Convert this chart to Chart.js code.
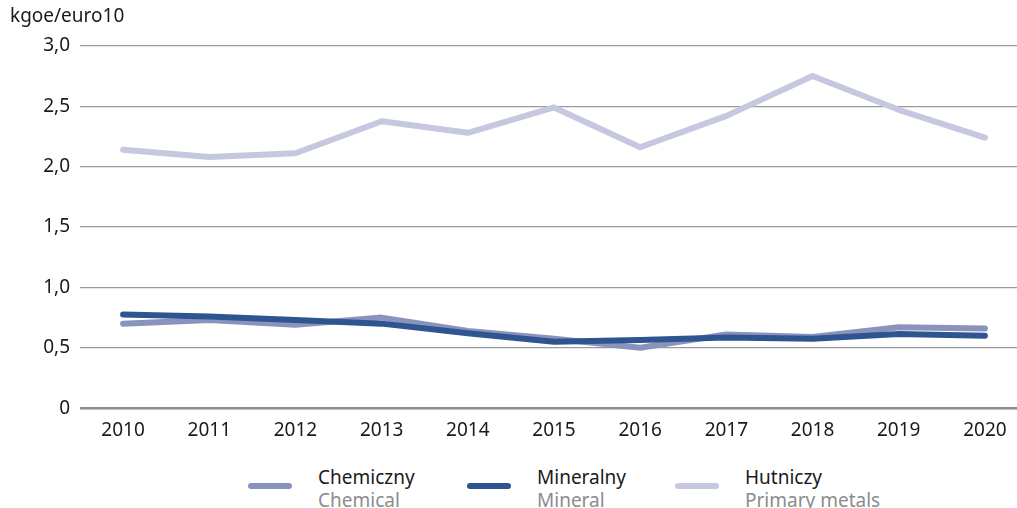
<!DOCTYPE html>
<html>
<head>
<meta charset="utf-8">
<script src="https://cdn.jsdelivr.net/npm/chart.js@4/dist/chart.umd.min.js"></script>
<style>
  html, body { margin: 0; padding: 0; background: #fff; overflow: hidden; }
  body { width: 1017px; height: 508px; position: relative; font-family: "Noto Sans", sans-serif; }
  #wrap { position: absolute; left: 0; top: 0; width: 1028px; height: 445px; }
  .leg { position: absolute; top: 466px; font-size: 19px; line-height: 23px; }
  .leg .sw { position: absolute; top: 17px; width: 44px; height: 6px; border-radius: 3px; }
  .leg .pl { color: #1a1a1a; }
  .leg .en { color: #8c8c8c; }
</style>
</head>
<body>
<div id="wrap"><canvas id="chart"></canvas></div>

<div class="leg" style="left:318px"><span class="sw" style="left:-70px;background:#8a93bd"></span><div class="pl">Chemiczny</div><div class="en">Chemical</div></div>
<div class="leg" style="left:537px"><span class="sw" style="left:-70px;background:#2e5590"></span><div class="pl">Mineralny</div><div class="en">Mineral</div></div>
<div class="leg" style="left:745px"><span class="sw" style="left:-70px;background:#c6c8df"></span><div class="pl">Hutniczy</div><div class="en">Primary metals</div></div>

<script>
// dane
var years = ['2010', '2011', '2012', '2013', '2014', '2015', '2016', '2017', '2018', '2019', '2020'];
var chemiczny = [0.70, 0.73, 0.69, 0.75, 0.64, 0.575, 0.50, 0.61, 0.59, 0.67, 0.66];
var mineralny = [0.775, 0.76, 0.73, 0.70, 0.62, 0.55, 0.565, 0.585, 0.575, 0.615, 0.60];
var hutniczy = [2.14, 2.08, 2.11, 2.375, 2.28, 2.49, 2.16, 2.42, 2.75, 2.47, 2.24];

var font = "'Noto Sans', sans-serif";

function lineSet(label, data, color, order) {
    return {
        label: label,
        data: data,
        borderColor: color,
        backgroundColor: color,
        borderWidth: 6,
        pointRadius: 0,
        tension: 0,
        borderCapStyle: 'round',
        borderJoinStyle: 'round',
        order: order
    };
}

var ctx = document.getElementById('chart').getContext('2d');
var chart = new Chart(ctx, {
    type: 'line',
    data: {
        labels: years,
        datasets: [
            lineSet('Chemiczny', chemiczny, '#8a93bd', 1),
            lineSet('Mineralny', mineralny, '#2e5590', 0),
            lineSet('Hutniczy', hutniczy, '#c6c8df', 2)
        ]
    },
    options: {
        responsive: true,
        maintainAspectRatio: false,
        animation: false,
        layout: { padding: { left: 10, right: 0, top: 0, bottom: 0 } },
        plugins: {
            legend: { display: false },
            tooltip: { enabled: false },
            title: {
                display: true,
                text: 'kgoe/euro10',
                align: 'start',
                color: '#1a1a1a',
                font: { family: font, size: 19, weight: 'normal' },
                padding: { top: 5, bottom: 18 }
            }
        },
        scales: {
            x: {
                offset: true,
                grid: { display: false },
                border: { display: false },
                ticks: { color: '#1a1a1a', font: { family: font, size: 19 }, padding: 3, maxRotation: 0 }
            },
            y: {
                min: 0,
                max: 3,
                afterFit: function (scale) { scale.width = 70; },
                border: { display: false },
                grid: {
                    drawTicks: false,
                    color: function (c) { return c.tick.value === 0 ? '#8c8c8c' : '#9a9a9a'; },
                    lineWidth: function (c) { return c.tick.value === 0 ? 2.5 : 1.2; }
                },
                ticks: {
                    stepSize: 0.5,
                    padding: 10,
                    color: '#1a1a1a',
                    font: { family: font, size: 19 },
                    callback: function (v) { return v === 0 ? '0' : v.toFixed(1).replace('.', ','); }
                }
            }
        }
    }
});
</script>
</body>
</html>
